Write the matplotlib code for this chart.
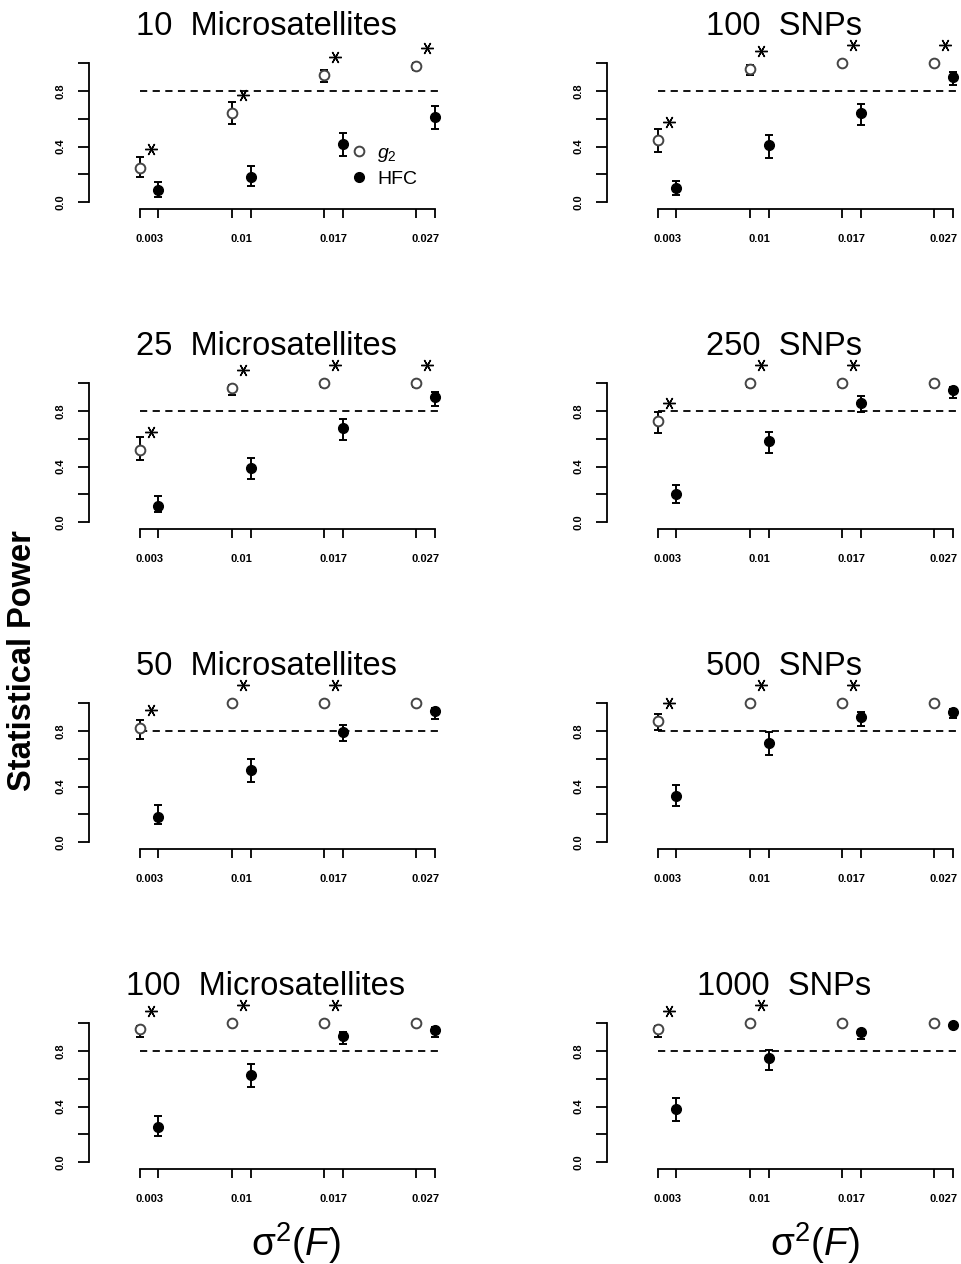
import numpy as np
import matplotlib
matplotlib.use("Agg")
import matplotlib.pyplot as plt
from matplotlib.lines import Line2D

plt.rcParams["font.family"] = ["Liberation Sans", "DejaVu Sans"]
plt.rcParams["mathtext.fontset"] = "custom"
plt.rcParams["mathtext.rm"] = "Liberation Sans"
plt.rcParams["mathtext.it"] = "Liberation Sans:italic"

# ── Data: power of g2 vs HFC for each marker panel ─────────────────────
variance_labels = ["0.003", "0.01", "0.017", "0.027"]
panel_titles = [
    "10  Microsatellites", "100  SNPs",
    "25  Microsatellites", "250  SNPs",
    "50  Microsatellites", "500  SNPs",
    "100  Microsatellites", "1000  SNPs",
]

g2_power = [
    [0.25, 0.645, 0.915, 0.98],
    [0.45, 0.96, 1.0, 1.0],
    [0.52, 0.965, 1.0, 1.0],
    [0.73, 1.0, 1.0, 1.0],
    [0.825, 1.0, 1.0, 1.0],
    [0.875, 1.0, 1.0, 1.0],
    [0.96, 1.0, 1.0, 1.0],
    [0.96, 1.0, 1.0, 1.0],
]
g2_lower = [
    [0.185, 0.565, 0.865, 0.95],
    [0.36, 0.915, 0.98, 0.98],
    [0.445, 0.915, 0.975, 0.975],
    [0.64, 0.975, 0.975, 0.975],
    [0.745, 0.98, 0.98, 0.98],
    [0.81, 0.98, 0.98, 0.98],
    [0.90, 0.985, 0.985, 0.985],
    [0.90, 0.985, 0.985, 0.985],
]
g2_upper = [
    [0.325, 0.72, 0.955, 1.0],
    [0.525, 0.985, 1.0, 1.0],
    [0.61, 0.99, 1.0, 1.0],
    [0.795, 1.0, 1.0, 1.0],
    [0.88, 1.0, 1.0, 1.0],
    [0.92, 1.0, 1.0, 1.0],
    [0.98, 1.0, 1.0, 1.0],
    [0.98, 1.0, 1.0, 1.0],
]

hfc_power = [
    [0.09, 0.18, 0.42, 0.61],
    [0.10, 0.41, 0.64, 0.90],
    [0.12, 0.39, 0.675, 0.90],
    [0.20, 0.585, 0.86, 0.95],
    [0.185, 0.52, 0.79, 0.945],
    [0.335, 0.715, 0.90, 0.94],
    [0.255, 0.625, 0.905, 0.955],
    [0.38, 0.75, 0.935, 0.985],
]
hfc_lower = [
    [0.04, 0.12, 0.33, 0.525],
    [0.055, 0.32, 0.555, 0.84],
    [0.075, 0.31, 0.59, 0.835],
    [0.135, 0.495, 0.795, 0.895],
    [0.13, 0.435, 0.725, 0.885],
    [0.26, 0.63, 0.835, 0.895],
    [0.19, 0.54, 0.85, 0.90],
    [0.295, 0.665, 0.885, 0.97],
]
hfc_upper = [
    [0.145, 0.26, 0.495, 0.69],
    [0.155, 0.485, 0.71, 0.94],
    [0.19, 0.465, 0.74, 0.94],
    [0.27, 0.65, 0.905, 0.97],
    [0.265, 0.60, 0.845, 0.965],
    [0.415, 0.79, 0.935, 0.96],
    [0.335, 0.705, 0.94, 0.975],
    [0.46, 0.81, 0.955, 1.0],
]

# 1 = g2 significantly more powerful than HFC
significant = [
    [1, 1, 1, 1],
    [1, 1, 1, 1],
    [1, 1, 1, 1],
    [1, 1, 1, 0],
    [1, 1, 1, 0],
    [1, 1, 1, 0],
    [1, 1, 1, 0],
    [1, 1, 0, 0],
]

power_threshold = 0.8

# ── Layout (pixel geometry of a 961 x 1264 figure) ─────────────────────
W, H = 961, 1264
fig = plt.figure(figsize=(W / 100, H / 100), dpi=100)

groups = np.arange(1, 5)
x_g2 = groups - 0.1
x_hfc = groups + 0.1
xlim = (0.346, 4.19)
ylim = (-0.05, 1.04)

col_left = [89, 607]
ax_w = 354
ax_h = 151.5
row_top = [57.7 + 320 * r for r in range(4)]

for k in range(8):
    r, c = divmod(k, 2)
    ax = fig.add_axes([col_left[c] / W, 1 - (row_top[r] + ax_h) / H, ax_w / W, ax_h / H])

    g2 = np.array(g2_power[k])
    hf = np.array(hfc_power[k])
    g2_err = [g2 - np.array(g2_lower[k]), np.array(g2_upper[k]) - g2]
    hf_err = [hf - np.array(hfc_lower[k]), np.array(hfc_upper[k]) - hf]

    ax.plot([x_g2[0], xlim[1]], [power_threshold] * 2, color="black",
            lw=1.3, dashes=(4, 3), zorder=1)

    ax.errorbar(x_g2, g2, yerr=g2_err, fmt="none", ecolor="black",
                elinewidth=1.4, capsize=2.9, capthick=1.4, zorder=2)
    ax.errorbar(x_hfc, hf, yerr=hf_err, fmt="none", ecolor="black",
                elinewidth=1.4, capsize=2.9, capthick=1.4, zorder=2)
    ax.plot(x_g2, g2, "o", ms=7, mfc="white", mec="#454545", mew=1.4,
            zorder=3, clip_on=False)
    ax.plot(x_hfc, hf, "o", ms=7, mfc="black", mec="black", zorder=3,
            clip_on=False)

    # asterisk above each pair where g2 beats HFC
    sig = np.array(significant[k], dtype=bool)
    ax.plot(groups[sig] + 0.02, g2[sig] + 0.13, ls="none",
            marker=(6, 2, 90), ms=9, mew=1.0, color="black", clip_on=False)

    ax.set_xlim(*xlim)
    ax.set_ylim(*ylim)
    for side in ("top", "right"):
        ax.spines[side].set_visible(False)
    ax.spines["left"].set_bounds(0, 1)
    ax.spines["bottom"].set_bounds(x_g2[0], x_hfc[-1])
    for side in ("left", "bottom"):
        ax.spines[side].set_linewidth(1.3)

    ax.set_yticks(np.arange(0, 1.01, 0.2))
    ax.set_yticklabels(["0.0", "", "0.4", "", "0.8", ""])
    ax.tick_params(axis="y", length=8, width=1.3, pad=9, labelsize=8,
                   labelrotation=90)
    for lab in ax.get_yticklabels():
        lab.set_fontweight("bold")
        lab.set_va("center")

    ax.set_xticks(np.sort(np.concatenate([x_g2, x_hfc])))
    ax.set_xticklabels([])
    ax.tick_params(axis="x", which="major", length=6.5, width=1.3)
    ax.set_xticks(groups, minor=True)
    ax.set_xticklabels(variance_labels, minor=True, fontsize=8,
                       fontweight="bold")
    ax.tick_params(axis="x", which="minor", length=0, pad=18)

    ax.set_title(panel_titles[k], fontsize=23.5, pad=16.3)

    if k == 0:
        handles = [
            Line2D([], [], ls="none", marker="o", ms=7, mfc="white",
                   mec="#454545", mew=1.4),
            Line2D([], [], ls="none", marker="o", ms=7, mfc="black",
                   mec="black"),
        ]
        ax.legend(handles, [r"$g_2$", "HFC"], loc="center left",
                  bbox_to_anchor=(0.736, 0.284), frameon=False, fontsize=14,
                  handlelength=1.0, handletextpad=0.41, labelspacing=0.3,
                  borderpad=0, borderaxespad=0)

fig.text(22.5 / W, 1 - 661 / H, "Statistical Power", rotation=90,
         fontsize=23.5, fontweight="bold", ha="center", va="center")
for xc in (296, 815):
    fig.text(xc / W, 1 - 1243 / H, r"$\mathrm{\sigma}^2(F)$", fontsize=28,
             ha="center", va="center")

fig.savefig("out.png", dpi=100)
